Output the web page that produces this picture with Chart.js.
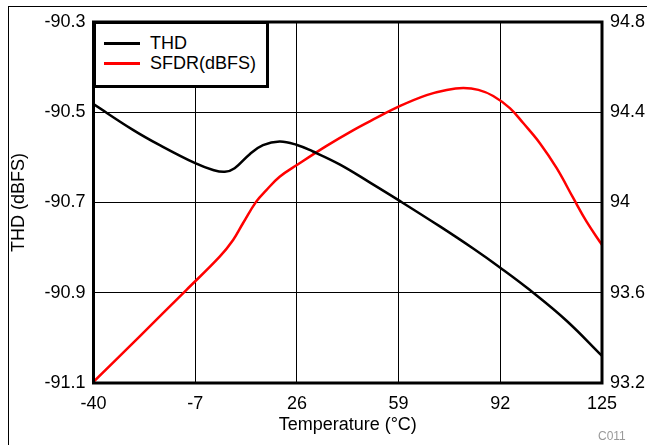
<!DOCTYPE html>
<html>
<head>
<meta charset="utf-8">
<script src="https://cdn.jsdelivr.net/npm/chart.js@4.4.1/dist/chart.umd.min.js"></script>
<style>
  html, body { margin: 0; padding: 0; background: #fff; }
  #wrap { position: relative; width: 647px; height: 445px; overflow: hidden; font-family: "Liberation Sans", Arial, sans-serif; }
  #frame { position: absolute; left: 8px; top: 6px; width: 700px; height: 500px; border-top: 1px solid #000; border-left: 1px solid #000; }
  canvas { position: absolute; left: 0; top: 0; }
  #legend { position: absolute; left: 93px; top: 21px; width: 170px; height: 61px; border: 3px solid #000; background: #fff; box-sizing: content-box; }
  .item { position: absolute; left: 8px; height: 20px; font-size: 18px; line-height: 20px; color: #000; white-space: nowrap; }
  .item span.sw { display: inline-block; width: 36px; height: 3px; vertical-align: middle; margin-right: 10px; position: relative; top: -1px; }
  #code { position: absolute; left: 598px; top: 429px; font-size: 12px; color: #999; }
</style>
</head>
<body>
<div id="wrap">
  <div id="frame"></div>
  <canvas id="c" width="647" height="445"></canvas>
  <div id="legend">
    <div class="item" style="top:9px"><span class="sw" style="background:#000"></span>THD</div>
    <div class="item" style="top:29px"><span class="sw" style="background:#f00"></span>SFDR(dBFS)</div>
  </div>
  <div id="code">C011</div>
</div>
<script>
// ---- data ----
const thdTemp = [-40, -27.2, -18.5, -7, -1.2, 2.6, 5.8, 10.7, 15, 20.4, 25.8, 31.2, 40, 50, 59.5, 72.4, 83.2, 92.1, 101.6, 113.5, 125];
const thdValues = [-90.482, -90.539, -90.573, -90.613, -90.628, -90.632, -90.624, -90.593, -90.573, -90.565, -90.572, -90.587, -90.616, -90.657, -90.697, -90.753, -90.802, -90.845, -90.894, -90.962, -91.040];
const sfdrTemp = [-40, -25, -9.9, 0.95, 5.3, 8.5, 12.8, 16.1, 20.4, 26, 35.5, 44.2, 50.8, 59.5, 68.1, 74.6, 80, 84.9, 89.7, 95.1, 99.5, 104.9, 110.3, 115.7, 120, 125];
const sfdrValues = [93.205, 93.407, 93.612, 93.760, 93.834, 93.908, 94.004, 94.055, 94.114, 94.166, 94.250, 94.320, 94.368, 94.428, 94.476, 94.499, 94.507, 94.499, 94.472, 94.418, 94.351, 94.262, 94.152, 94.019, 93.915, 93.812];
const xTicks = [-40, -7, 26, 59, 92, 125];
const thdTicks = [-91.1, -90.9, -90.7, -90.5, -90.3];
const sfdrTicks = [93.2, 93.6, 94, 94.4, 94.8];
const seriesNames = ['THD', 'SFDR(dBFS)'];

const FONT = { family: '"Liberation Sans", Arial, sans-serif', size: 18 };

const framePlugin = {
  id: 'frame',
  afterDatasetsDraw(chart) {
    const { ctx, chartArea: a } = chart;
    ctx.save();
    ctx.strokeStyle = '#000';
    ctx.lineWidth = 3;
    ctx.strokeRect(a.left, a.top, a.right - a.left, a.bottom - a.top);
    ctx.restore();
  }
};

const setTicks = (arr) => (scale) => { scale.ticks = arr.map(v => ({ value: v })); };

new Chart(document.getElementById('c'), {
  type: 'line',
  data: {
    datasets: [
      {
        label: seriesNames[0],
        data: thdTemp.map((t, i) => ({ x: t, y: thdValues[i] })),
        borderColor: '#000', borderWidth: 2.5, pointRadius: 0,
        tension: 0.4, yAxisID: 'y'
      },
      {
        label: seriesNames[1],
        data: sfdrTemp.map((t, i) => ({ x: t, y: sfdrValues[i] })),
        borderColor: '#f00', borderWidth: 2.5, pointRadius: 0,
        tension: 0.4, yAxisID: 'y2'
      }
    ]
  },
  options: {
    responsive: false, animation: false, devicePixelRatio: 1,
    layout: { padding: { left: 0, right: 0, top: 22, bottom: 0 } },
    plugins: { legend: { display: false }, tooltip: { enabled: false } },
    scales: {
      x: {
        type: 'linear', position: 'bottom', min: -40, max: 125,
        afterBuildTicks: setTicks(xTicks),
        afterFit(s) { s.height = 62; },
        grid: { color: '#000', lineWidth: 1, drawTicks: false },
        border: { display: false },
        ticks: { color: '#000', font: FONT, padding: 10, maxRotation: 0, callback: v => String(v) },
        title: { display: true, text: 'Temperature (°C)', color: '#000', font: FONT, padding: { top: 0, bottom: 9 } }
      },
      y: {
        type: 'linear', position: 'left', min: -91.1, max: -90.3,
        afterBuildTicks: setTicks(thdTicks),
        afterFit(s) { s.width = 93.5; },
        grid: { color: '#000', lineWidth: 1, drawTicks: false },
        border: { display: false },
        ticks: { color: '#000', font: FONT, padding: 8, callback: v => String(v) },
        title: { display: true, text: 'THD (dBFS)', color: '#000', font: FONT, padding: { top: 8, bottom: 0 } }
      },
      y2: {
        type: 'linear', position: 'right', min: 93.2, max: 94.8,
        afterBuildTicks: setTicks(sfdrTicks),
        afterFit(s) { s.width = 45; },
        grid: { display: false, drawTicks: false },
        border: { display: false },
        ticks: { color: '#000', font: FONT, padding: 8, callback: v => String(v) }
      }
    }
  },
  plugins: [framePlugin]
});
</script>
</body>
</html>
